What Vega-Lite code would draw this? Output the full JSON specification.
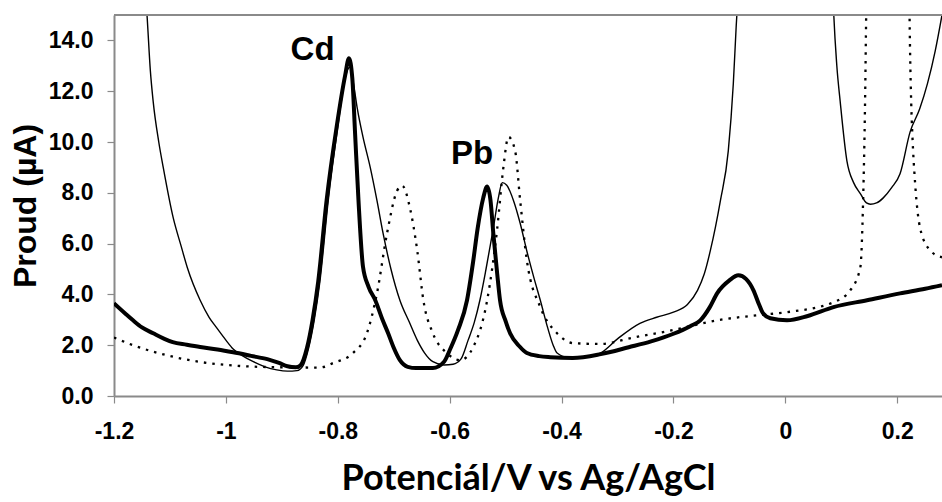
{
  "$schema": "https://vega.github.io/schema/vega-lite/v6.json",
  "width": 828,
  "height": 381,
  "autosize": "none",
  "padding": {"left": 114, "top": 15, "right": 0, "bottom": 106},
  "background": "white",
  "config": {"view": {"stroke": null}},
  "datasets": {
    "thick": [
      {"x": -1.2, "y": 3.65}, {"x": -1.18, "y": 3.25}, {"x": -1.166, "y": 2.98}, {"x": -1.15, "y": 2.7},
      {"x": -1.13, "y": 2.47}, {"x": -1.11, "y": 2.25}, {"x": -1.095, "y": 2.12}, {"x": -1.07, "y": 2.02},
      {"x": -1.046, "y": 1.93}, {"x": -1.015, "y": 1.83}, {"x": -0.987, "y": 1.72}, {"x": -0.955, "y": 1.58},
      {"x": -0.926, "y": 1.45}, {"x": -0.905, "y": 1.3}, {"x": -0.89, "y": 1.17}, {"x": -0.875, "y": 1.13},
      {"x": -0.867, "y": 1.2}, {"x": -0.855, "y": 1.9}, {"x": -0.845, "y": 3.0}, {"x": -0.835, "y": 4.5},
      {"x": -0.82, "y": 7.7}, {"x": -0.802, "y": 10.6}, {"x": -0.787, "y": 12.6}, {"x": -0.78, "y": 13.3},
      {"x": -0.774, "y": 12.5}, {"x": -0.769, "y": 10.3}, {"x": -0.763, "y": 7.7}, {"x": -0.755, "y": 5.1},
      {"x": -0.745, "y": 4.3}, {"x": -0.733, "y": 3.77}, {"x": -0.72, "y": 3.0}, {"x": -0.71, "y": 2.47},
      {"x": -0.7, "y": 1.9}, {"x": -0.689, "y": 1.41}, {"x": -0.675, "y": 1.15}, {"x": -0.66, "y": 1.1},
      {"x": -0.63, "y": 1.1}, {"x": -0.61, "y": 1.35}, {"x": -0.6, "y": 1.8}, {"x": -0.585, "y": 2.6},
      {"x": -0.569, "y": 3.77}, {"x": -0.558, "y": 5.3}, {"x": -0.55, "y": 6.6}, {"x": -0.54, "y": 7.8},
      {"x": -0.533, "y": 8.25}, {"x": -0.527, "y": 7.7}, {"x": -0.522, "y": 6.4}, {"x": -0.515, "y": 4.8},
      {"x": -0.51, "y": 3.77}, {"x": -0.5, "y": 2.95}, {"x": -0.492, "y": 2.47}, {"x": -0.475, "y": 1.95},
      {"x": -0.462, "y": 1.69}, {"x": -0.44, "y": 1.57}, {"x": -0.42, "y": 1.53}, {"x": -0.38, "y": 1.5},
      {"x": -0.33, "y": 1.65}, {"x": -0.28, "y": 1.92}, {"x": -0.24, "y": 2.15}, {"x": -0.2, "y": 2.45},
      {"x": -0.17, "y": 2.75}, {"x": -0.152, "y": 2.98}, {"x": -0.135, "y": 3.5}, {"x": -0.122, "y": 4.04},
      {"x": -0.1, "y": 4.55}, {"x": -0.084, "y": 4.75}, {"x": -0.07, "y": 4.6}, {"x": -0.057, "y": 4.16},
      {"x": -0.047, "y": 3.6}, {"x": -0.04, "y": 3.26}, {"x": -0.027, "y": 3.06}, {"x": 0.003, "y": 2.98},
      {"x": 0.04, "y": 3.15}, {"x": 0.086, "y": 3.5}, {"x": 0.146, "y": 3.77}, {"x": 0.205, "y": 4.04},
      {"x": 0.25, "y": 4.22}, {"x": 0.28, "y": 4.36}
    ],
    "thin": [
      {"x": -1.148, "y": 17}, {"x": -1.141, "y": 15}, {"x": -1.135, "y": 12.8}, {"x": -1.13, "y": 11.6},
      {"x": -1.12, "y": 10.0}, {"x": -1.112, "y": 9.0}, {"x": -1.094, "y": 7.0}, {"x": -1.08, "y": 5.9},
      {"x": -1.069, "y": 5.06}, {"x": -1.046, "y": 3.77}, {"x": -1.03, "y": 3.1}, {"x": -1.016, "y": 2.67},
      {"x": -1.0, "y": 2.2}, {"x": -0.987, "y": 1.85}, {"x": -0.97, "y": 1.58}, {"x": -0.951, "y": 1.35},
      {"x": -0.93, "y": 1.15}, {"x": -0.909, "y": 1.03}, {"x": -0.89, "y": 0.98}, {"x": -0.873, "y": 1.0},
      {"x": -0.862, "y": 1.2}, {"x": -0.852, "y": 1.9}, {"x": -0.842, "y": 3.0}, {"x": -0.832, "y": 4.5},
      {"x": -0.817, "y": 7.7}, {"x": -0.8, "y": 10.6}, {"x": -0.786, "y": 12.6}, {"x": -0.778, "y": 12.95},
      {"x": -0.772, "y": 12.3}, {"x": -0.765, "y": 11.3}, {"x": -0.755, "y": 10.2}, {"x": -0.742, "y": 9.0},
      {"x": -0.73, "y": 7.7}, {"x": -0.719, "y": 6.4}, {"x": -0.705, "y": 5.0}, {"x": -0.689, "y": 3.77},
      {"x": -0.672, "y": 2.9}, {"x": -0.658, "y": 2.2}, {"x": -0.645, "y": 1.7}, {"x": -0.63, "y": 1.35},
      {"x": -0.61, "y": 1.22}, {"x": -0.594, "y": 1.25}, {"x": -0.58, "y": 1.45}, {"x": -0.567, "y": 2.2},
      {"x": -0.556, "y": 2.9}, {"x": -0.546, "y": 3.77}, {"x": -0.535, "y": 5.0}, {"x": -0.522, "y": 6.6},
      {"x": -0.513, "y": 7.8}, {"x": -0.506, "y": 8.4}, {"x": -0.498, "y": 8.3}, {"x": -0.486, "y": 7.7},
      {"x": -0.474, "y": 6.8}, {"x": -0.462, "y": 5.7}, {"x": -0.45, "y": 4.7}, {"x": -0.438, "y": 3.77},
      {"x": -0.425, "y": 2.7}, {"x": -0.415, "y": 2.0}, {"x": -0.408, "y": 1.69}, {"x": -0.39, "y": 1.53},
      {"x": -0.36, "y": 1.55}, {"x": -0.331, "y": 1.69}, {"x": -0.3, "y": 2.25}, {"x": -0.26, "y": 2.86},
      {"x": -0.23, "y": 3.1}, {"x": -0.2, "y": 3.3}, {"x": -0.175, "y": 3.6}, {"x": -0.157, "y": 4.16},
      {"x": -0.145, "y": 4.8}, {"x": -0.134, "y": 5.73}, {"x": -0.116, "y": 7.7}, {"x": -0.102, "y": 9.65},
      {"x": -0.093, "y": 12.3}, {"x": -0.088, "y": 14.5}, {"x": -0.086, "y": 15.3}, {"x": -0.082, "y": 18},
      {"x": 0.082, "y": 18}, {"x": 0.086, "y": 15.3}, {"x": 0.092, "y": 13.0}, {"x": 0.098, "y": 11.6},
      {"x": 0.11, "y": 9.26}, {"x": 0.122, "y": 8.4}, {"x": 0.134, "y": 7.97}, {"x": 0.145, "y": 7.6},
      {"x": 0.152, "y": 7.55}, {"x": 0.163, "y": 7.6}, {"x": 0.175, "y": 7.8}, {"x": 0.19, "y": 8.2},
      {"x": 0.205, "y": 8.75}, {"x": 0.223, "y": 10.4}, {"x": 0.24, "y": 11.3}, {"x": 0.254, "y": 12.3},
      {"x": 0.268, "y": 13.6}, {"x": 0.28, "y": 15.0}
    ],
    "dotted": [
      {"x": -1.2, "y": 2.3}, {"x": -1.166, "y": 2.0}, {"x": -1.105, "y": 1.6}, {"x": -1.046, "y": 1.34},
      {"x": -0.987, "y": 1.2}, {"x": -0.926, "y": 1.14}, {"x": -0.832, "y": 1.12}, {"x": -0.808, "y": 1.3},
      {"x": -0.773, "y": 1.69}, {"x": -0.748, "y": 2.47}, {"x": -0.73, "y": 4.04}, {"x": -0.712, "y": 6.4},
      {"x": -0.694, "y": 8.08}, {"x": -0.685, "y": 8.28}, {"x": -0.671, "y": 7.4}, {"x": -0.658, "y": 5.73},
      {"x": -0.647, "y": 3.77}, {"x": -0.63, "y": 2.47}, {"x": -0.605, "y": 1.69}, {"x": -0.581, "y": 1.41},
      {"x": -0.558, "y": 1.92}, {"x": -0.533, "y": 3.77}, {"x": -0.515, "y": 6.6}, {"x": -0.504, "y": 9.0},
      {"x": -0.495, "y": 10.2}, {"x": -0.483, "y": 9.65}, {"x": -0.474, "y": 7.7}, {"x": -0.462, "y": 5.34},
      {"x": -0.438, "y": 3.5}, {"x": -0.408, "y": 2.47}, {"x": -0.379, "y": 2.08}, {"x": -0.331, "y": 2.05},
      {"x": -0.272, "y": 2.3}, {"x": -0.2, "y": 2.6}, {"x": -0.122, "y": 2.98}, {"x": -0.05, "y": 3.18},
      {"x": 0.003, "y": 3.3}, {"x": 0.086, "y": 3.69}, {"x": 0.116, "y": 4.16}, {"x": 0.134, "y": 5.06},
      {"x": 0.139, "y": 7.7}, {"x": 0.1425, "y": 11.6}, {"x": 0.1445, "y": 15}, {"x": 0.146, "y": 17},
      {"x": 0.221, "y": 17}, {"x": 0.222, "y": 15}, {"x": 0.225, "y": 11.5}, {"x": 0.227, "y": 10.3},
      {"x": 0.232, "y": 8.36}, {"x": 0.241, "y": 6.6}, {"x": 0.259, "y": 5.73}, {"x": 0.28, "y": 5.46}
    ],
    "labels": [
      {"label": "Cd", "x": -0.845, "y": 13.21},
      {"label": "Pb", "x": -0.56, "y": 9.14}
    ]
  },
  "layer": [
    {
      "data": {"name": "thin"},
      "mark": {"type": "line", "color": "black", "strokeWidth": 1.4, "clip": true, "interpolate": "monotone"},
      "encoding": {
        "x": {
          "field": "x", "type": "quantitative",
          "scale": {"domain": [-1.2, 0.28], "nice": false, "zero": false},
          "axis": {
            "values": [-1.2, -1, -0.8, -0.6, -0.4, -0.2, 0, 0.2],
            "labelExpr": "'' + datum.value",
            "title": "Potenciál/V vs Ag/AgCl",
            "grid": false,
            "domainColor": "#8a8a8a", "domainWidth": 2,
            "tickColor": "#8a8a8a", "tickWidth": 1.2, "tickSize": 7,
            "labelFont": "Liberation Sans", "labelFontWeight": "bold", "labelFontSize": 23, "labelColor": "black",
            "labelPadding": 17, "labelFlush": false,
            "titleFont": "Lato", "titleFontWeight": "bold", "titleFontSize": 36, "titleColor": "black",
            "titlePadding": 18
          }
        },
        "y": {
          "field": "y", "type": "quantitative",
          "scale": {"domain": [0, 15], "nice": false},
          "axis": {
            "values": [0, 2, 4, 6, 8, 10, 12, 14],
            "format": ".1f",
            "title": "Proud (µA)",
            "grid": false,
            "domainColor": "#8a8a8a", "domainWidth": 2,
            "tickColor": "#8a8a8a", "tickWidth": 1.2, "tickSize": 7,
            "labelFont": "Liberation Sans", "labelFontWeight": "bold", "labelFontSize": 23, "labelColor": "black",
            "labelPadding": 14, "labelFlush": false,
            "titleFont": "Liberation Sans", "titleFontWeight": "bold", "titleFontSize": 32, "titleColor": "black",
            "titlePadding": 6
          }
        }
      }
    },
    {
      "data": {"name": "dotted"},
      "mark": {"type": "line", "color": "black", "strokeWidth": 2.3, "strokeDash": [2.5, 6], "clip": true, "interpolate": "monotone"},
      "encoding": {
        "x": {"field": "x", "type": "quantitative"},
        "y": {"field": "y", "type": "quantitative"}
      }
    },
    {
      "data": {"name": "thick"},
      "mark": {"type": "line", "color": "black", "strokeWidth": 4, "clip": true, "interpolate": "monotone"},
      "encoding": {
        "x": {"field": "x", "type": "quantitative"},
        "y": {"field": "y", "type": "quantitative"}
      }
    },
    {
      "data": {"values": [{"top": 15}]},
      "mark": {"type": "rule", "color": "#8a8a8a", "strokeWidth": 2},
      "encoding": {"y": {"field": "top", "type": "quantitative"}}
    },
    {
      "data": {"name": "labels"},
      "mark": {"type": "text", "font": "Liberation Sans", "fontWeight": "bold", "fontSize": 33, "color": "black", "align": "center", "baseline": "alphabetic"},
      "encoding": {
        "x": {"field": "x", "type": "quantitative"},
        "y": {"field": "y", "type": "quantitative"},
        "text": {"field": "label"}
      }
    }
  ]
}
